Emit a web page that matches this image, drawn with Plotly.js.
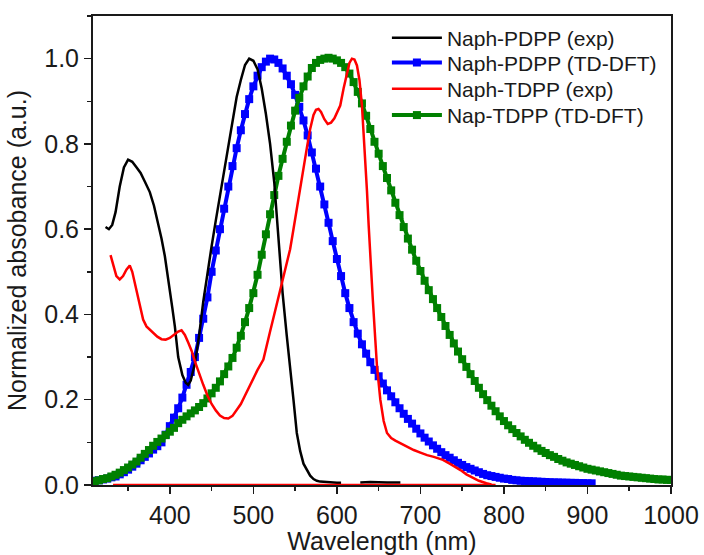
<!DOCTYPE html>
<html>
<head>
<meta charset="utf-8">
<script src="https://cdn.plot.ly/plotly-3.0.1.min.js"></script>
<style>html,body{margin:0;padding:0;background:#fff;}#chart{width:704px;height:555px;}</style>
</head>
<body>
<div id="chart"></div>
<script>
// Naph-PDPP (exp)
var pdppExpX = [323,327,331,335,340,345,350,355,360,365,370,376,381,386,390,394,397,400,403,406,410,415,419,422,425,430,435,440,445,450,455,460,465,470,475,480,485,490,495,500,505,510,515,520,525,530,535,540,544,548,552,556,560,564,568,572,576,580,590,600,605,615,628,640,660,676];
var pdppExpY = [0.605,0.600,0.610,0.640,0.700,0.745,0.763,0.758,0.745,0.732,0.712,0.687,0.655,0.616,0.578,0.537,0.500,0.459,0.415,0.372,0.300,0.258,0.240,0.235,0.245,0.285,0.350,0.430,0.500,0.560,0.620,0.680,0.740,0.800,0.860,0.910,0.950,0.985,1.000,0.995,0.975,0.930,0.870,0.800,0.710,0.570,0.450,0.350,0.280,0.200,0.122,0.080,0.050,0.035,0.022,0.014,0.010,0.008,0.006,0.005,0.005,null,0.006,0.007,0.006,0.006];

// Naph-PDPP (TD-DFT)
var pdppDftX = [310,315,320,325,330,335,340,345,350,355,360,365,370,375,380,385,390,395,400,405,410,415,420,425,430,435,440,445,450,455,460,465,470,475,480,485,490,495,500,505,510,515,520,525,530,535,540,545,550,555,560,565,570,575,580,585,590,595,600,605,610,615,620,625,630,635,640,645,650,655,660,665,670,675,680,685,690,695,700,705,710,715,720,725,730,735,740,745,750,755,760,765,770,775,780,785,790,795,800,805,810,815,820,825,830,835,840,845,850,855,860,865,870,875,880,885,890,895,900,905];
var pdppDftY = [0.010,0.011,0.013,0.015,0.018,0.020,0.025,0.030,0.036,0.043,0.050,0.058,0.066,0.074,0.083,0.091,0.100,0.118,0.138,0.158,0.180,0.205,0.235,0.265,0.300,0.345,0.390,0.440,0.500,0.550,0.600,0.648,0.700,0.748,0.790,0.832,0.870,0.905,0.935,0.960,0.980,0.993,1.000,0.998,0.990,0.977,0.960,0.940,0.915,0.887,0.855,0.820,0.780,0.742,0.700,0.658,0.615,0.572,0.530,0.490,0.450,0.415,0.382,0.355,0.330,0.308,0.288,0.270,0.255,0.238,0.222,0.208,0.194,0.180,0.167,0.155,0.144,0.132,0.121,0.111,0.102,0.093,0.085,0.077,0.070,0.064,0.058,0.052,0.047,0.042,0.038,0.034,0.030,0.026,0.023,0.021,0.019,0.017,0.015,0.014,0.012,0.011,0.010,0.0095,0.009,0.0085,0.008,0.0075,0.007,0.0065,0.006,0.006,0.0055,0.0055,0.005,0.005,0.0045,0.0045,0.004,0.004];

// Naph-TDPP (exp)
var tdppExpX = [329,333,336,340,344,348,352,355,358,361,364,368,372,376,380,385,390,395,400,405,410,414,418,422,426,430,435,440,445,450,455,460,465,470,475,480,485,490,495,500,505,512,516,520,525,530,535,540,544,548,552,556,560,564,568,572,575,578,581,585,589,593,597,601,604,608,612,615,618,621,624,627,630,632,634,636,638,640,643,646,648,652,656,660,665,670,676,684,692,700,708,716,727,735,742,748,755,763,770,779,785];
var tdppExpY = [0.539,0.510,0.490,0.482,0.490,0.505,0.515,0.500,0.475,0.445,0.420,0.388,0.372,0.365,0.357,0.348,0.342,0.341,0.345,0.352,0.360,0.363,0.352,0.334,0.315,0.290,0.260,0.235,0.210,0.190,0.175,0.163,0.157,0.156,0.162,0.175,0.190,0.210,0.230,0.250,0.270,0.294,0.330,0.360,0.400,0.440,0.480,0.520,0.553,0.600,0.650,0.700,0.745,0.790,0.835,0.868,0.880,0.882,0.875,0.858,0.847,0.850,0.860,0.875,0.890,0.930,0.969,0.990,1.000,0.998,0.984,0.950,0.890,0.830,0.770,0.690,0.610,0.530,0.435,0.340,0.278,0.200,0.150,0.122,0.110,0.104,0.098,0.090,0.082,0.076,0.070,0.066,0.059,0.050,0.042,0.035,0.025,0.016,0.010,0.004,0.001];

// Naph-TDPP (exp) baseline at zero
var tdppBaseX = [332, 790];
var tdppBaseY = [0, 0];

// Nap-TDPP (TD-DFT)
var tdppDftX = [310,315,320,325,330,335,340,345,350,355,360,365,370,375,380,385,390,395,400,405,410,415,420,425,430,435,440,445,450,455,460,465,470,475,480,485,490,495,500,505,510,515,520,525,530,535,540,545,550,555,560,565,570,575,580,585,590,595,600,605,610,615,620,625,630,635,640,645,650,655,660,665,670,675,680,685,690,695,700,705,710,715,720,725,730,735,740,745,750,755,760,765,770,775,780,785,790,795,800,805,810,815,820,825,830,835,840,845,850,855,860,865,870,875,880,885,890,895,900,905,910,915,920,925,930,935,940,945,950,955,960,965,970,975,980,985,990,995,1000];
var tdppDftY = [0.009,0.011,0.014,0.016,0.020,0.024,0.029,0.035,0.041,0.048,0.055,0.064,0.073,0.082,0.092,0.101,0.109,0.117,0.125,0.134,0.145,0.153,0.161,0.168,0.175,0.183,0.192,0.203,0.215,0.228,0.243,0.260,0.278,0.298,0.322,0.350,0.382,0.415,0.450,0.493,0.540,0.588,0.635,0.680,0.725,0.765,0.805,0.843,0.878,0.908,0.935,0.958,0.978,0.990,0.997,1.000,1.002,1.000,0.996,0.990,0.980,0.965,0.945,0.922,0.895,0.866,0.835,0.805,0.777,0.748,0.720,0.691,0.662,0.633,0.605,0.578,0.552,0.526,0.502,0.479,0.457,0.436,0.415,0.394,0.373,0.352,0.332,0.313,0.295,0.277,0.260,0.244,0.228,0.213,0.199,0.186,0.173,0.161,0.150,0.140,0.131,0.122,0.114,0.106,0.099,0.092,0.086,0.080,0.075,0.070,0.066,0.061,0.057,0.053,0.050,0.047,0.044,0.041,0.038,0.036,0.034,0.032,0.030,0.028,0.026,0.024,0.022,0.021,0.020,0.019,0.018,0.017,0.016,0.015,0.014,0.013,0.013,0.012,0.012];

var xTickVals = [400,500,600,700,800,900,1000];
var yTickVals = [0.0,0.2,0.4,0.6,0.8,1.0];

var FONT = '"Liberation Sans", Arial, sans-serif';

var traces = [
  {x: pdppDftX, y: pdppDftY, name: 'Naph-PDPP (TD-DFT)', mode: 'lines+markers', legend: 'legend2',
   line: {color: '#0000ff', width: 4}, marker: {symbol: 'square', size: 8, color: '#0000ff'}},
  {x: tdppDftX, y: tdppDftY, name: 'Nap-TDPP (TD-DFT)', mode: 'lines+markers', legend: 'legend4',
   line: {color: '#008000', width: 4}, marker: {symbol: 'square', size: 8, color: '#008000'}},
  {x: pdppExpX, y: pdppExpY, name: 'Naph-PDPP (exp)', mode: 'lines', legend: 'legend', connectgaps: false,
   line: {color: '#000000', width: 2.5}},
  {x: tdppBaseX, y: tdppBaseY, name: 'baseline', mode: 'lines', showlegend: false,
   line: {color: '#ff0000', width: 2.5}},
  {x: tdppExpX, y: tdppExpY, name: 'Naph-TDPP (exp)', mode: 'lines', legend: 'legend3',
   line: {color: '#ff0000', width: 2.5}}
];

function legendAt(yc) {
  return {x: 0.5085, xanchor: 'left', y: yc, yanchor: 'middle', bgcolor: 'rgba(0,0,0,0)',
          font: {family: FONT, size: 21, color: '#1a1a1a'}, itemwidth: 50, itemsizing: 'trace'};
}

var layout = {
  width: 704, height: 555,
  margin: {l: 93, r: 33, t: 16, b: 70},
  paper_bgcolor: '#ffffff', plot_bgcolor: '#ffffff',
  font: {family: FONT, color: '#1a1a1a', size: 25},
  showlegend: true,
  legend: legendAt(0.953),
  legend2: legendAt(0.9),
  legend3: legendAt(0.8443),
  legend4: legendAt(0.788),
  xaxis: {
    range: [308, 1000], tickvals: xTickVals, ticks: 'outside', ticklen: 7, tickwidth: 1.5,
    tickcolor: '#1a1a1a', showline: true, linecolor: '#1a1a1a', linewidth: 2, mirror: true,
    showgrid: false, zeroline: false, tickfont: {family: FONT, size: 25, color: '#1a1a1a'},
    minor: {dtick: 50, tick0: 0, ticks: 'outside', ticklen: 4, tickcolor: '#1a1a1a', tickwidth: 1.5, showgrid: false},
    title: {text: 'Wavelength (nm)', font: {family: FONT, size: 25, color: '#1a1a1a'}, standoff: 1}
  },
  yaxis: {
    range: [0, 1.1], tickvals: yTickVals, tickformat: '.1f', ticks: 'outside', ticklen: 7, tickwidth: 1.5,
    tickcolor: '#1a1a1a', showline: true, linecolor: '#1a1a1a', linewidth: 2, mirror: true,
    showgrid: false, zeroline: false, tickfont: {family: FONT, size: 25, color: '#1a1a1a'},
    minor: {dtick: 0.1, tick0: 0, ticks: 'outside', ticklen: 4, tickcolor: '#1a1a1a', tickwidth: 1.5, showgrid: false},
    title: {text: 'Normalized absobance (a.u.)', font: {family: FONT, size: 25, color: '#1a1a1a'}, standoff: 10}
  }
};

Plotly.newPlot('chart', traces, layout, {displayModeBar: false, staticPlot: true});
</script>
</body>
</html>
